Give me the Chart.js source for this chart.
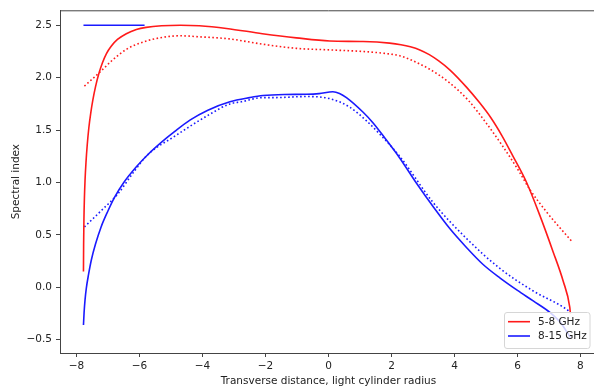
<!DOCTYPE html>
<html>
<head>
<meta charset="utf-8">
<script src="https://cdn.jsdelivr.net/npm/chart.js@4/dist/chart.umd.min.js"></script>
<style>
  html, body { margin: 0; padding: 0; background: #ffffff; overflow: hidden; }
  #wrap { position: relative; width: 598px; height: 389px; }
</style>
</head>
<body>
<div id="wrap"><canvas id="chart"></canvas></div>
<script>
// Spectral index across the jet, two frequency bands (solid = model, dotted = smoothed)
const xRed58 = [-7.78, -7.775, -7.765, -7.75, -7.73, -7.70, -7.66, -7.61, -7.55, -7.48, -7.40, -7.30, -7.18, -7.05, -6.90, -6.70, -6.42, -6.10, -5.79, -5.30, -4.70, -4.10, -3.24, -2.10, -1.02, 0.04, 1.10, 1.94, 2.30, 2.60, 2.90, 3.20, 3.50, 3.85, 4.38, 4.80, 5.15, 5.50, 5.86, 6.29, 6.71, 7.13, 7.45, 7.66, 7.68];
const yRed58 = [0.15, 0.40, 0.65, 0.85, 1.02, 1.19, 1.36, 1.52, 1.66, 1.79, 1.91, 2.03, 2.14, 2.23, 2.30, 2.365, 2.42, 2.46, 2.48, 2.495, 2.50, 2.495, 2.47, 2.42, 2.38, 2.35, 2.345, 2.33, 2.315, 2.295, 2.265, 2.22, 2.16, 2.075, 1.91, 1.76, 1.62, 1.45, 1.25, 1.00, 0.686, 0.34, 0.06, -0.19, -0.25];

const xRed58Dot = [-7.75, -7.27, -6.85, -6.42, -5.89, -5.36, -4.73, -4.09, -3.15, -2.10, -1.02, 0.04, 1.10, 1.84, 2.26, 2.58, 2.90, 3.22, 3.85, 4.45, 5.00, 5.50, 6.00, 6.40, 6.92, 7.72];
const yRed58Dot = [1.92, 2.05, 2.17, 2.27, 2.34, 2.38, 2.40, 2.39, 2.37, 2.32, 2.28, 2.265, 2.25, 2.23, 2.21, 2.175, 2.13, 2.08, 1.95, 1.78, 1.57, 1.36, 1.13, 0.93, 0.72, 0.44];

const xBlue815 = [-7.78, -7.76, -7.73, -7.69, -7.62, -7.53, -7.40, -7.22, -7.00, -6.79, -6.50, -6.10, -5.74, -5.30, -4.89, -4.40, -3.83, -3.13, -2.50, -2.08, -1.40, -0.70, -0.30, 0.14, 0.35, 0.57, 1.10, 1.41, 1.80, 2.26, 2.80, 3.32, 3.85, 4.38, 4.90, 5.44, 6.00, 6.50, 7.03, 7.40, 7.68];
const yBlue815 = [-0.36, -0.24, -0.12, -0.01, 0.12, 0.26, 0.41, 0.576, 0.73, 0.86, 1.00, 1.15, 1.265, 1.385, 1.485, 1.595, 1.69, 1.77, 1.81, 1.83, 1.84, 1.842, 1.848, 1.866, 1.85, 1.81, 1.67, 1.57, 1.42, 1.234, 0.99, 0.77, 0.56, 0.38, 0.22, 0.09, -0.03, -0.13, -0.24, -0.35, -0.48];

const xBlue815Dot = [-7.75, -7.22, -6.69, -6.16, -5.74, -4.89, -3.83, -3.13, -2.77, -2.08, -1.71, -0.70, 0.04, 0.67, 1.20, 1.60, 2.26, 3.32, 4.38, 5.44, 6.50, 7.56, 7.68];
const yBlue815Dot = [0.576, 0.73, 0.89, 1.11, 1.265, 1.44, 1.64, 1.75, 1.77, 1.81, 1.81, 1.82, 1.80, 1.72, 1.59, 1.47, 1.25, 0.81, 0.466, 0.18, -0.035, -0.21, -0.24];

// short reference level drawn at the top left
const xRefLevel = [-7.78, -5.84];
const yRefLevel = [2.5, 2.5];

const seriesLabels = ['5-8 GHz', '8-15 GHz'];
const xTicks = [-8, -6, -4, -2, 0, 2, 4, 6, 8];
const xTickLabels = ['\u22128', '\u22126', '\u22124', '\u22122', '0', '2', '4', '6', '8'];
const yTicks = [-0.5, 0.0, 0.5, 1.0, 1.5, 2.0, 2.5];
const yTickLabels = ['\u22120.5', '0.0', '0.5', '1.0', '1.5', '2.0', '2.5'];

const pts = (xs, ys) => xs.map((x, i) => ({ x: x, y: ys[i] }));

const RED = '#ff1a1a';
const BLUE = '#1a1aff';
const FONT = { family: 'DejaVu Sans', size: 10.5 };
const TEXT = '#222222';
const AXIS = '#444444';

const lineStyle = {
  showLine: true, pointRadius: 0, pointHoverRadius: 0, borderWidth: 1.6,
  cubicInterpolationMode: 'monotone', fill: false
};

// frame top edge + legend box in the lower right corner
const framePlugin = {
  id: 'frameAndLegend',
  afterDatasetsDraw(chart) {
    const { ctx, chartArea } = chart;
    ctx.save();
    ctx.strokeStyle = AXIS;
    ctx.lineWidth = 1;
    ctx.beginPath();
    ctx.moveTo(chartArea.left, chartArea.top + 0.5);
    ctx.lineTo(chartArea.right, chartArea.top + 0.5);
    ctx.stroke();

    const bx = 504.5, by = 312.5, bw = 85.5, bh = 36;
    const r = 2.5;
    ctx.beginPath();
    ctx.moveTo(bx + r, by);
    ctx.lineTo(bx + bw - r, by);
    ctx.arcTo(bx + bw, by, bx + bw, by + r, r);
    ctx.lineTo(bx + bw, by + bh - r);
    ctx.arcTo(bx + bw, by + bh, bx + bw - r, by + bh, r);
    ctx.lineTo(bx + r, by + bh);
    ctx.arcTo(bx, by + bh, bx, by + bh - r, r);
    ctx.lineTo(bx, by + r);
    ctx.arcTo(bx, by, bx + r, by, r);
    ctx.closePath();
    ctx.fillStyle = 'rgba(255,255,255,0.8)';
    ctx.fill();
    ctx.strokeStyle = '#d6d6d6';
    ctx.stroke();

    const entries = [
      { label: seriesLabels[0], color: RED, y: 321.7 },
      { label: seriesLabels[1], color: BLUE, y: 336 }
    ];
    ctx.font = '10.5px "DejaVu Sans"';
    ctx.textBaseline = 'middle';
    ctx.textAlign = 'left';
    entries.forEach(e => {
      ctx.strokeStyle = e.color;
      ctx.lineWidth = 1.6;
      ctx.beginPath();
      ctx.moveTo(508, e.y);
      ctx.lineTo(530, e.y);
      ctx.stroke();
      ctx.fillStyle = TEXT;
      ctx.fillText(e.label, 538, e.y + 0.5);
    });
    ctx.restore();
  }
};

new Chart(document.getElementById('chart'), {
  type: 'scatter',
  data: {
    datasets: [
      Object.assign({ label: seriesLabels[0], data: pts(xRed58, yRed58), borderColor: RED }, lineStyle),
      Object.assign({ label: seriesLabels[0] + ' (dotted)', data: pts(xRed58Dot, yRed58Dot), borderColor: RED, borderDash: [1.6, 2.4] }, lineStyle),
      Object.assign({ label: seriesLabels[1], data: pts(xBlue815, yBlue815), borderColor: BLUE }, lineStyle),
      Object.assign({ label: seriesLabels[1] + ' (dotted)', data: pts(xBlue815Dot, yBlue815Dot), borderColor: BLUE, borderDash: [1.6, 2.4] }, lineStyle),
      Object.assign({ label: 'level', data: pts(xRefLevel, yRefLevel), borderColor: BLUE }, lineStyle, { cubicInterpolationMode: 'default' })
    ]
  },
  options: {
    responsive: true,
    maintainAspectRatio: false,
    devicePixelRatio: 1,
    animation: false,
    layout: { padding: { left: 0, top: 5, right: 1, bottom: 0 } },
    plugins: { legend: { display: false }, tooltip: { enabled: false } },
    scales: {
      x: {
        type: 'linear',
        min: -8.525,
        max: 8.525,
        afterBuildTicks: s => { s.ticks = xTicks.map(v => ({ value: v })); },
        afterFit: s => { s.height = 36; },
        ticks: {
          autoSkip: false, maxRotation: 0, padding: 3, color: TEXT, font: FONT,
          callback: v => xTickLabels[xTicks.indexOf(v)]
        },
        grid: { drawOnChartArea: false, drawTicks: true, tickLength: 4, tickColor: AXIS, tickWidth: 1 },
        border: { display: true, color: AXIS, width: 1 },
        title: { display: true, text: 'Transverse distance, light cylinder radius', color: TEXT, font: FONT, padding: { top: 0, bottom: 1 } }
      },
      y: {
        type: 'linear',
        min: -0.627,
        max: 2.643,
        afterBuildTicks: s => { s.ticks = yTicks.map(v => ({ value: v })); },
        afterFit: s => { s.width = 60; },
        ticks: {
          autoSkip: false, padding: 4, color: TEXT, font: FONT,
          callback: v => yTickLabels[yTicks.indexOf(v)]
        },
        grid: { drawOnChartArea: false, drawTicks: true, tickLength: 4, tickColor: AXIS, tickWidth: 1 },
        border: { display: true, color: AXIS, width: 1 },
        title: { display: true, text: 'Spectral index', color: TEXT, font: FONT, padding: { top: 9.5, bottom: 0 } }
      }
    }
  },
  plugins: [framePlugin]
});
</script>
</body>
</html>
